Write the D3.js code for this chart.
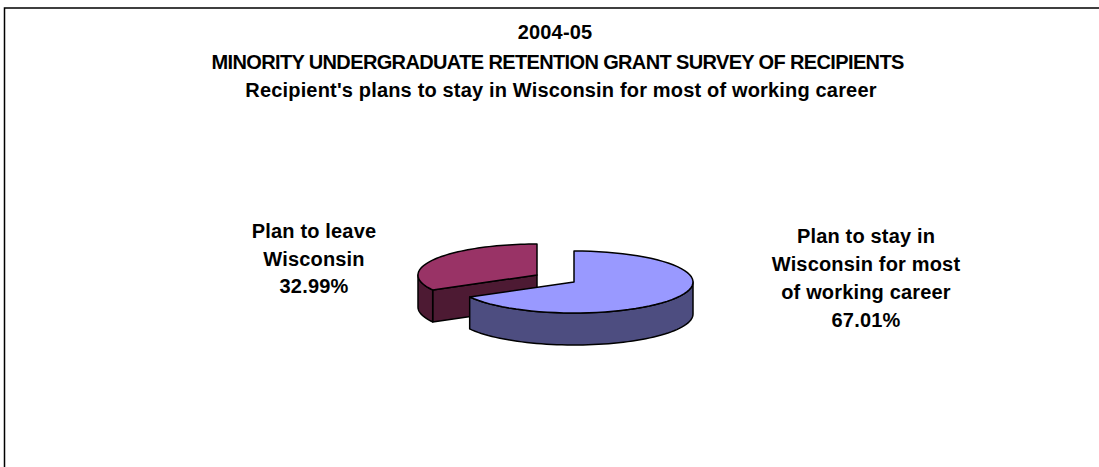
<!DOCTYPE html>
<html>
<head>
  <meta charset="utf-8">
  <script src="https://d3js.org/d3.v7.min.js"></script>
  <style>
    html, body { margin: 0; background: #fff; }
    svg { display: block; font-family: 'Liberation Sans', Arial, sans-serif; font-weight: bold; }
  </style>
</head>
<body>
  <svg></svg>
  <script>
    // values
    const categories = ["Plan to stay in Wisconsin for most of working career", "Plan to leave Wisconsin"];
    const shares = [67.01, 32.99];
    const titleLines = ["2004-05", "MINORITY UNDERGRADUATE RETENTION GRANT SURVEY OF RECIPIENTS", "Recipient's plans to stay in Wisconsin for most of working career"];
    const stayLabel = ["Plan to stay in", "Wisconsin for most", "of working career", "67.01%"];
    const leaveLabel = ["Plan to leave", "Wisconsin", "32.99%"];

    const width = 1099;
    const height = 467;

    // pie geometry
    const rx = 119, ry = 31, depth = 32;
    const centers = [[574, 282], [537, 275]];   // second slice is pulled out
    const topColors = ["#9999ff", "#993366"];
    const sideColors = ["#4d4d80", "#4d1a33"];

    const svg = d3.select("svg").attr("width", width).attr("height", height);

    // frame: only top and left show, the rest is cropped off
    svg.append("path")
      .attr("d", `M4.5,${height}V8H${width}`)
      .attr("fill", "none")
      .attr("stroke", "#000")
      .attr("stroke-width", 1.5);

    const arcs = d3.pie().sort(null)(shares);
    const pt = (c, a, dy = 0) => [c[0] + rx * Math.sin(a), c[1] - ry * Math.cos(a) + dy];
    const outline = d3.line();

    function rim(c, a0, a1, dy) {
      return d3.range(0, 61).map(i => pt(c, a0 + (a1 - a0) * i / 60, dy));
    }

    // draw the pulled out slice first so the big one sits over it
    [1, 0].forEach(i => {
      const d = arcs[i], c = centers[i];
      const g = svg.append("g").attr("stroke", "#000").attr("stroke-width", 1.5).attr("stroke-linejoin", "round");

      if (i === 1) {
        // cut face of the red slice, running back to the centre
        const corner = pt(c, d.startAngle);
        g.append("path")
          .attr("d", outline([corner, c, [c[0], c[1] + depth], [corner[0], corner[1] + depth]]) + "Z")
          .attr("fill", sideColors[i]);
        // outer wall, left part of the rim only
        const wall = rim(c, d.startAngle, 1.5 * Math.PI, 0);
        const wallLow = rim(c, d.startAngle, 1.5 * Math.PI, depth).reverse();
        g.append("path").attr("d", outline(wall.concat(wallLow)) + "Z").attr("fill", sideColors[i]);
      } else {
        // front wall from the right extreme round to the left corner
        const wall = rim(c, Math.PI / 2, d.endAngle, 0);
        const wallLow = rim(c, Math.PI / 2, d.endAngle, depth).reverse();
        g.append("path").attr("d", outline(wall.concat(wallLow)) + "Z").attr("fill", sideColors[i]);
      }

      g.append("path")
        .attr("d", outline([c].concat(rim(c, d.startAngle, d.endAngle, 0))) + "Z")
        .attr("fill", topColors[i]);
    });

    function textBlock(lines, x, y0, step) {
      return svg.append("g").attr("font-size", 20).attr("text-anchor", "middle").attr("fill", "#000")
        .attr("letter-spacing", 0.17)
        .selectAll("text")
        .data(lines)
        .join("text")
          .attr("x", x)
          .attr("y", (d, i) => y0 + i * step)
          .text(d => d);
    }

    textBlock(titleLines.slice(0, 1), 555, 39, 0);
    // the capitals line is set tighter than the others
    textBlock(titleLines.slice(1, 2), 558, 69, 0).attr("textLength", 693).attr("lengthAdjust", "spacing");
    textBlock(titleLines.slice(2, 3), 561, 97, 0);
    textBlock(leaveLabel, 314, 238, 27.7);
    textBlock(stayLabel, 866, 243, 28);
  </script>
</body>
</html>
